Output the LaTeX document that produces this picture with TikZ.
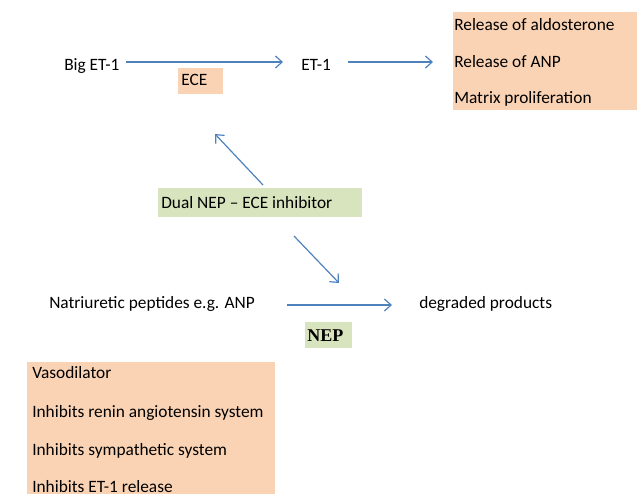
\documentclass[tikz,border=0pt]{standalone}
\usepackage{fontspec}
\setmainfont{Carlito}
\newfontfamily\nepfont{Liberation Serif}
\usetikzlibrary{arrows.meta}
\definecolor{peach}{HTML}{FAD3B4}
\definecolor{sage}{HTML}{D7E4BD}
\definecolor{arrowblue}{HTML}{4F81BD}
\tikzset{
  lbl/.style={anchor=base west, inner sep=0pt, font=\fontsize{13}{15}\selectfont},
  flow/.style={draw=arrowblue, line width=0.9pt, -{Straight Barb[length=5pt,width=9pt]}}
}
\begin{document}
\begin{tikzpicture}[x=0.75pt,y=-0.75pt]
\useasboundingbox (0,0) rectangle (637,494);
% boxes
\fill[peach] (178,68) rectangle (223,94);
\fill[peach] (453,12) rectangle (637,110);
\fill[sage] (158,188) rectangle (362,217);
\fill[sage] (305,322) rectangle (352,348);
\fill[peach] (27,362) rectangle (275,494);
% texts
\node[lbl] (big) at (64,70) {Big ET-1};
\node[lbl] (ece) at (181,85) {ECE};
\node[lbl] (et) at (301,70) {ET-1};
\node[lbl] (r1) at (454,30) {Release of aldosterone};
\node[lbl] (r2) at (454,67) {Release of ANP};
\node[lbl] (r3) at (454,103) {Matrix proliferation};
\node[lbl] (dual) at (161,208) {Dual NEP -- ECE inhibitor};
\node[lbl] (nat) at (49,308) {Natriuretic peptides e.g. ANP};
\node[lbl] (deg) at (419,308) {degraded products};
\node[lbl, font=\nepfont\bfseries\fontsize{13.5}{15}\selectfont] (nep) at (307,341) {NEP};
\node[lbl] (v1) at (32,378) {Vasodilator};
\node[lbl] (v2) at (32,417) {Inhibits renin angiotensin system};
\node[lbl] (v3) at (32,455) {Inhibits sympathetic system};
\node[lbl] (v4) at (32,492) {Inhibits ET-1 release};
% connectors
\coordinate (a1) at (126,62);
\coordinate (a2) at (283,62);
\coordinate (b1) at (348,62);
\coordinate (b2) at (433,62);
\coordinate (c1) at (263,185);
\coordinate (c2) at (215,134);
\coordinate (d1) at (294,236);
\coordinate (d2) at (339,283);
\coordinate (e1) at (287,305);
\coordinate (e2) at (392,305);
\draw[flow] (a1) -- (a2);
\draw[flow] (b1) -- (b2);
\draw[flow] (c1) -- (c2);
\draw[flow] (d1) -- (d2);
\draw[flow] (e1) -- (e2);
\end{tikzpicture}
\end{document}
